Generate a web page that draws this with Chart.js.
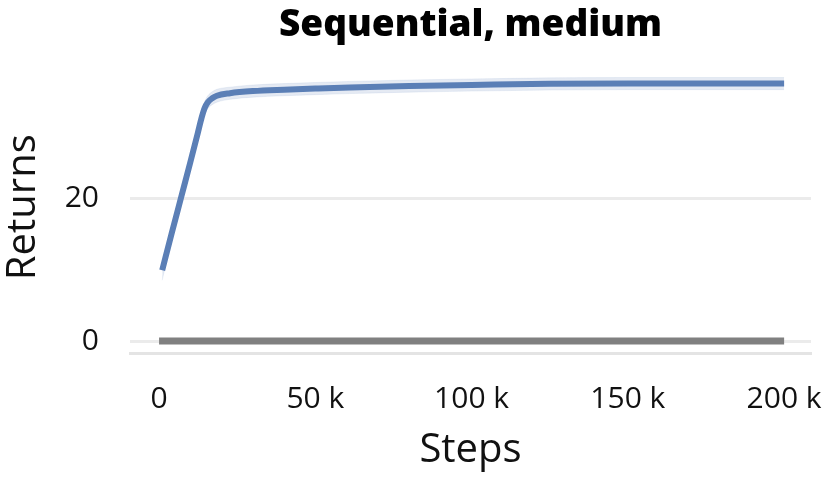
<!DOCTYPE html>
<html>
<head>
<meta charset="utf-8">
<script src="https://cdn.jsdelivr.net/npm/chart.js@4/dist/chart.umd.min.js"></script>
<style>
  html, body { margin: 0; padding: 0; background: #ffffff; }
  #wrap { width: 829px; height: 480px; }
</style>
</head>
<body>
<div id="wrap"><canvas id="c" width="829" height="480"></canvas></div>
<script>
// ---- data ----
const chartTitle = 'Sequential, medium';
const xAxisTitle = 'Steps';
const yAxisTitle = 'Returns';

const blueSteps   = [1000, 4000, 7000, 10000, 12400, 13600, 14600, 15600, 17000, 18500, 22700, 30000, 40000, 50000, 61000, 80000, 100000, 125000, 150000, 175000, 200000];
const blueReturns = [9.9, 15.0, 20.0, 25.0, 29.1, 31.2, 32.6, 33.4, 33.95, 34.3, 34.65, 34.95, 35.15, 35.3, 35.45, 35.65, 35.8, 35.97, 36.0, 36.0, 36.0];
const blueUpper   = [10.8, 15.9, 20.9, 25.9, 30.0, 32.1, 33.5, 34.3, 34.85, 35.2, 35.5, 35.8, 36.0, 36.15, 36.3, 36.5, 36.65, 36.8, 36.85, 36.85, 36.85];
const blueLower   = [8.5, 14.1, 19.1, 24.1, 28.2, 30.3, 31.7, 32.5, 33.05, 33.4, 33.8, 34.1, 34.3, 34.45, 34.6, 34.8, 34.95, 35.1, 35.15, 35.15, 35.15];

const graySteps   = [0, 50000, 100000, 150000, 200000];
const grayReturns = [0, 0, 0, 0, 0];

const xTickValues = [0, 50000, 100000, 150000, 200000];
const yTickValues = [0, 20];

// ---- build ----
const pts = (xs, ys) => xs.map((x, i) => ({ x: x, y: ys[i] }));
const FONT = "'Open Sans', 'Noto Sans', sans-serif";
const BLUE = '#5b7fb6';

new Chart(document.getElementById('c'), {
  type: 'line',
  data: {
    datasets: [
      { label: 'mean', data: pts(blueSteps, blueReturns), borderColor: BLUE, borderWidth: 6,
        pointRadius: 0, fill: false, cubicInterpolationMode: 'monotone', borderCapStyle: 'butt' },
      { label: 'baseline', data: pts(graySteps, grayReturns), borderColor: '#808080', borderWidth: 7,
        pointRadius: 0, fill: false, borderCapStyle: 'butt' },
      { label: 'upper', data: pts(blueSteps, blueUpper), borderColor: 'rgba(91,127,182,0.10)', borderWidth: 1,
        backgroundColor: 'rgba(91,127,182,0.16)', pointRadius: 0, fill: '+1', cubicInterpolationMode: 'monotone' },
      { label: 'lower', data: pts(blueSteps, blueLower), borderColor: 'rgba(91,127,182,0.10)', borderWidth: 1,
        pointRadius: 0, fill: false, cubicInterpolationMode: 'monotone' }
    ]
  },
  options: {
    responsive: false,
    animation: false,
    devicePixelRatio: 1,
    layout: { padding: { left: 0, right: 18, top: 0, bottom: 0 } },
    plugins: {
      legend: { display: false },
      tooltip: { enabled: false },
      title: {
        display: true, text: chartTitle, fullSize: false, color: '#000',
        font: { family: FONT, size: 37, weight: '800' },
        padding: { top: 3, bottom: 14 }
      }
    },
    scales: {
      x: {
        type: 'linear',
        min: -9300, max: 208600,
        afterBuildTicks: s => { s.ticks = xTickValues.map(v => ({ value: v })); },
        afterFit: s => { s.height = 127; s.paddingLeft = 0; s.paddingRight = 0; },
        grid: { display: false, drawTicks: false },
        border: { display: true, color: '#e4e4e4', width: 3 },
        ticks: {
          color: '#111', padding: 28, maxRotation: 0,
          font: { family: FONT, size: 30 },
          callback: v => v === 0 ? '0' : (v / 1000) + ' k'
        },
        title: { display: true, text: xAxisTitle, color: '#111',
          font: { family: FONT, size: 40 }, padding: { top: 0, bottom: 5 } }
      },
      y: {
        type: 'linear',
        min: -1.67, max: 39.1,
        afterBuildTicks: s => { s.ticks = yTickValues.map(v => ({ value: v })); },
        afterFit: s => { s.width = 130; s.paddingTop = 0; s.paddingBottom = 0; },
        grid: { color: '#ebebeb', lineWidth: 3, drawTicks: false },
        border: { display: false },
        ticks: { color: '#111', padding: 31, font: { family: FONT, size: 30 } },
        title: { display: true, text: yAxisTitle, color: '#111',
          font: { family: FONT, size: 40 }, padding: { top: 0, bottom: 0 } }
      }
    }
  }
});
</script>
</body>
</html>
